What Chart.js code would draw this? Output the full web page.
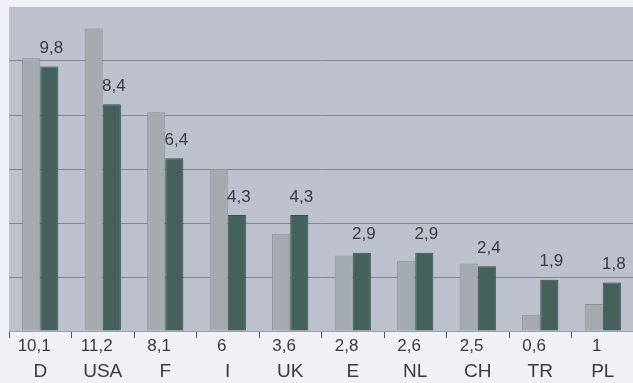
<!DOCTYPE html>
<html>
<head>
<meta charset="utf-8">
<script src="https://cdn.jsdelivr.net/npm/chart.js@4"></script>
<style>
  html, body { margin: 0; padding: 0; background: #eff1f5; overflow: hidden; }
  #wrap { position: relative; width: 640px; height: 383px; }
</style>
</head>
<body>
<div id="wrap"><canvas id="c" width="640" height="383"></canvas></div>
<script>
// Countries along the axis
const countries = ['D', 'USA', 'F', 'I', 'UK', 'E', 'NL', 'CH', 'TR', 'PL'];
// First series (light bars), values printed under the axis
const lightValues = [10.1, 11.2, 8.1, 6, 3.6, 2.8, 2.6, 2.5, 0.6, 1];
// Second series (dark bars), values printed above the bars
const darkValues = [9.8, 8.4, 6.4, 4.3, 4.3, 2.9, 2.9, 2.4, 1.9, 1.8];

const fmt = v => String(v).replace('.', ',');
const FONT = '"Liberation Sans", Arial, sans-serif';
const TEXT = '#3a3b3d';

const plotBackground = {
  id: 'plotBackground',
  beforeDraw(chart) {
    const { ctx, chartArea: a } = chart;
    ctx.save();
    ctx.fillStyle = '#bcc1cd';
    ctx.fillRect(a.left, a.top, a.right - a.left, a.bottom - a.top);
    ctx.restore();
  }
};

const valueLabels = {
  id: 'valueLabels',
  afterDatasetsDraw(chart) {
    const { ctx, chartArea: a } = chart;
    ctx.save();
    ctx.font = '17px ' + FONT;
    ctx.fillStyle = TEXT;
    ctx.textAlign = 'center';
    ctx.textBaseline = 'middle';
    // dark bar values above each bar
    chart.getDatasetMeta(1).data.forEach((bar, i) => {
      ctx.fillText(fmt(darkValues[i]), bar.x + 2, bar.y - 18);
    });
    // light bar values under the axis
    chart.getDatasetMeta(0).data.forEach((bar, i) => {
      ctx.fillText(fmt(lightValues[i]), bar.x + 3, a.bottom + 15);
    });
    ctx.restore();
  }
};

new Chart(document.getElementById('c'), {
  type: 'bar',
  data: {
    labels: countries,
    datasets: [
      {
        data: lightValues,
        backgroundColor: '#a4aaae',
        borderColor: '#8b9296',
        borderWidth: 1,
        borderSkipped: 'bottom'
      },
      {
        data: darkValues,
        backgroundColor: '#44625b',
        borderColor: '#34514a',
        borderWidth: 1,
        borderSkipped: 'bottom'
      }
    ]
  },
  options: {
    responsive: false,
    animation: false,
    events: [],
    layout: { padding: { left: 9, right: 6, top: 7, bottom: 0 } },
    plugins: { legend: { display: false }, tooltip: { enabled: false } },
    datasets: { bar: { categoryPercentage: 0.58, barPercentage: 1.0 } },
    scales: {
      x: {
        grid: {
          offset: true,
          drawOnChartArea: false,
          drawTicks: true,
          tickLength: 7,
          tickColor: '#55585c',
          tickWidth: 1
        },
        border: { display: true, color: '#9aa0a8', width: 1 },
        ticks: {
          color: TEXT,
          font: { family: FONT, size: 19 },
          padding: 22,
          maxRotation: 0,
          autoSkip: false
        },
        afterFit(scale) { scale.height = 52; }
      },
      y: {
        display: true,
        min: 0,
        max: 12,
        ticks: { display: false, stepSize: 2 },
        grid: {
          // inner lines only; the top edge of the plot stays plain
          color: ctx => (ctx.tick && ctx.tick.value >= 12) || (ctx.tick && ctx.tick.value === 0) ? 'rgba(0,0,0,0)' : '#7f8790',
          lineWidth: 1,
          drawTicks: false
        },
        border: { display: false },
        afterFit(scale) { scale.width = 0; }
      }
    }
  },
  plugins: [plotBackground, valueLabels]
});
</script>
</body>
</html>
